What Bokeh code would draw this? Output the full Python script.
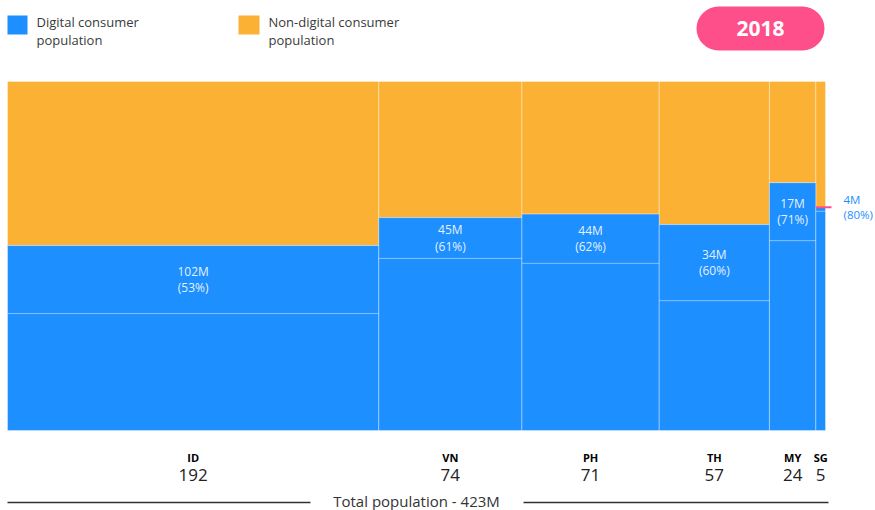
from bokeh.plotting import figure
from bokeh.models import Range1d, ColumnDataSource, BoxAnnotation, Label
from bokeh.core.properties import value
from bokeh.embed import file_html
from bokeh.resources import INLINE

# ---------------- data ----------------
countries = ["ID", "VN", "PH", "TH", "MY", "SG"]
population = [192, 74, 71, 57, 24, 5]            # millions
digital_pop = ["102M", "45M", "44M", "34M", "17M", "4M"]
digital_pct_label = ["53%", "61%", "62%", "60%", "71%", "80%"]
digital_share = [53, 61, 62, 59, 71, 64]           # drawn height of blue part (%)
inner_line = [33.5, 49.3, 47.9, 37.2, 54.4, 62.8]  # white line inside blue part (%)
year = "2018"

BLUE = "#1E8FFF"
ORANGE = "#FBB234"
PINK = "#FF4F8B"
FONT = "Open Sans"

total = sum(population)

# ---------------- layout helpers ----------------
W, H = 875, 510
X0_PX, X1_PX = 7, 825
Y0_PX, Y100_PX = 430, 81
sx = (X1_PX - X0_PX) / total
sy = (Y0_PX - Y100_PX) / 100.0

def px_x(px):
    return (px - X0_PX) / sx

def px_y(py):
    return (Y0_PX - py) / sy

p = figure(width=W, height=H, output_backend="svg", toolbar_location=None,
           x_range=Range1d(px_x(0), px_x(W)), y_range=Range1d(px_y(H), px_y(0)),
           min_border=0, outline_line_color=None)
p.xaxis.visible = False
p.yaxis.visible = False
p.xgrid.visible = False
p.ygrid.visible = False
p.background_fill_color = "white"
p.border_fill_color = "white"

left, right = [], []
acc = 0
for v in population:
    left.append(acc)
    acc += v
    right.append(acc)
center = [(l + r) / 2 for l, r in zip(left, right)]

src = ColumnDataSource(dict(
    left=left, right=right, center=center,
    share=digital_share, inner=inner_line, top=[100] * len(countries),
    zero=[0] * len(countries), country=countries,
    pop=[str(v) for v in population],
    lab=[f"{d}\n({pc})" for d, pc in zip(digital_pop, digital_pct_label)],
    lab_y=[(i + s) / 2 for i, s in zip(inner_line, digital_share)],
))

# bars
p.quad(left="left", right="right", bottom="share", top="top", source=src,
       fill_color=ORANGE, line_color="white", line_alpha=0.35, line_width=1)
p.quad(left="left", right="right", bottom="zero", top="share", source=src,
       fill_color=BLUE, line_color="white", line_alpha=0.35, line_width=1)
p.segment(x0="left", x1="right", y0="inner", y1="inner", source=src,
          line_color="white", line_alpha=0.45, line_width=1)

# inside labels (all but last)
inside = ColumnDataSource(dict(x=center[:-1], y=src.data["lab_y"][:-1],
                               t=src.data["lab"][:-1]))
p.text(x="x", y="y", text="t", source=inside, text_align="center",
       text_baseline="middle", text_color="white", text_alpha=0.9,
       text_font=value(FONT), text_font_size="12px", text_line_height=0.95)

# SG callout
p.segment(x0=[left[-1]], x1=[total + px_x(831) - px_x(X1_PX)],
          y0=[digital_share[-1]], y1=[digital_share[-1]],
          line_color=PINK, line_width=2)
p.text(x=[total + px_x(843) - px_x(X1_PX)], y=[digital_share[-1]],
       text=[src.data["lab"][-1]], text_align="left", text_baseline="middle",
       text_color=BLUE, text_font=value(FONT), text_font_size="11.5px",
       text_line_height=1.0)

# bottom labels
p.text(x="center", y=px_y(457), text="country", source=src, text_align="center",
       text_baseline="middle", text_color="black", text_font=value(FONT),
       text_font_style="bold", text_font_size="11px")
p.text(x="center", y=px_y(474), text="pop", source=src, text_align="center",
       text_baseline="middle", text_color="#222222", text_font=value(FONT),
       text_font_size="17px")

# total population rule
p.segment(x0=[px_x(7), px_x(523)], x1=[px_x(310), px_x(828)],
          y0=[px_y(502)] * 2, y1=[px_y(502)] * 2, line_color="#333333", line_width=1.3)
p.text(x=[px_x(416)], y=[px_y(500)], text=[f"Total population - {total}M"],
       text_align="center", text_baseline="middle", text_color="#333333",
       text_font=value(FONT), text_font_size="15px")

# legend
p.quad(left=[px_x(7), px_x(238)], right=[px_x(27), px_x(259)],
       top=[px_y(15), px_y(15)], bottom=[px_y(34), px_y(34)],
       fill_color=[BLUE, ORANGE], line_color=None)
p.text(x=[px_x(36), px_x(36), px_x(268), px_x(268)],
       y=[px_y(21), px_y(39), px_y(21), px_y(39)],
       text=["Digital consumer", "population", "Non-digital consumer", "population"],
       text_align="left", text_baseline="middle", text_color="#3a3a3a",
       text_font=value(FONT), text_font_size="13px")

# year pill
pill = BoxAnnotation(left=px_x(696), right=px_x(824), top=px_y(6), bottom=px_y(50),
                     fill_color=PINK, fill_alpha=1.0, line_color=None, border_radius=22)
p.add_layout(pill)
p.add_layout(Label(x=px_x(760), y=px_y(28), text=year, text_align="center",
                   text_baseline="middle", text_color="white", text_font=FONT,
                   text_font_style="bold", text_font_size="21px"))

open("out.html", "w").write(file_html(p, INLINE))
